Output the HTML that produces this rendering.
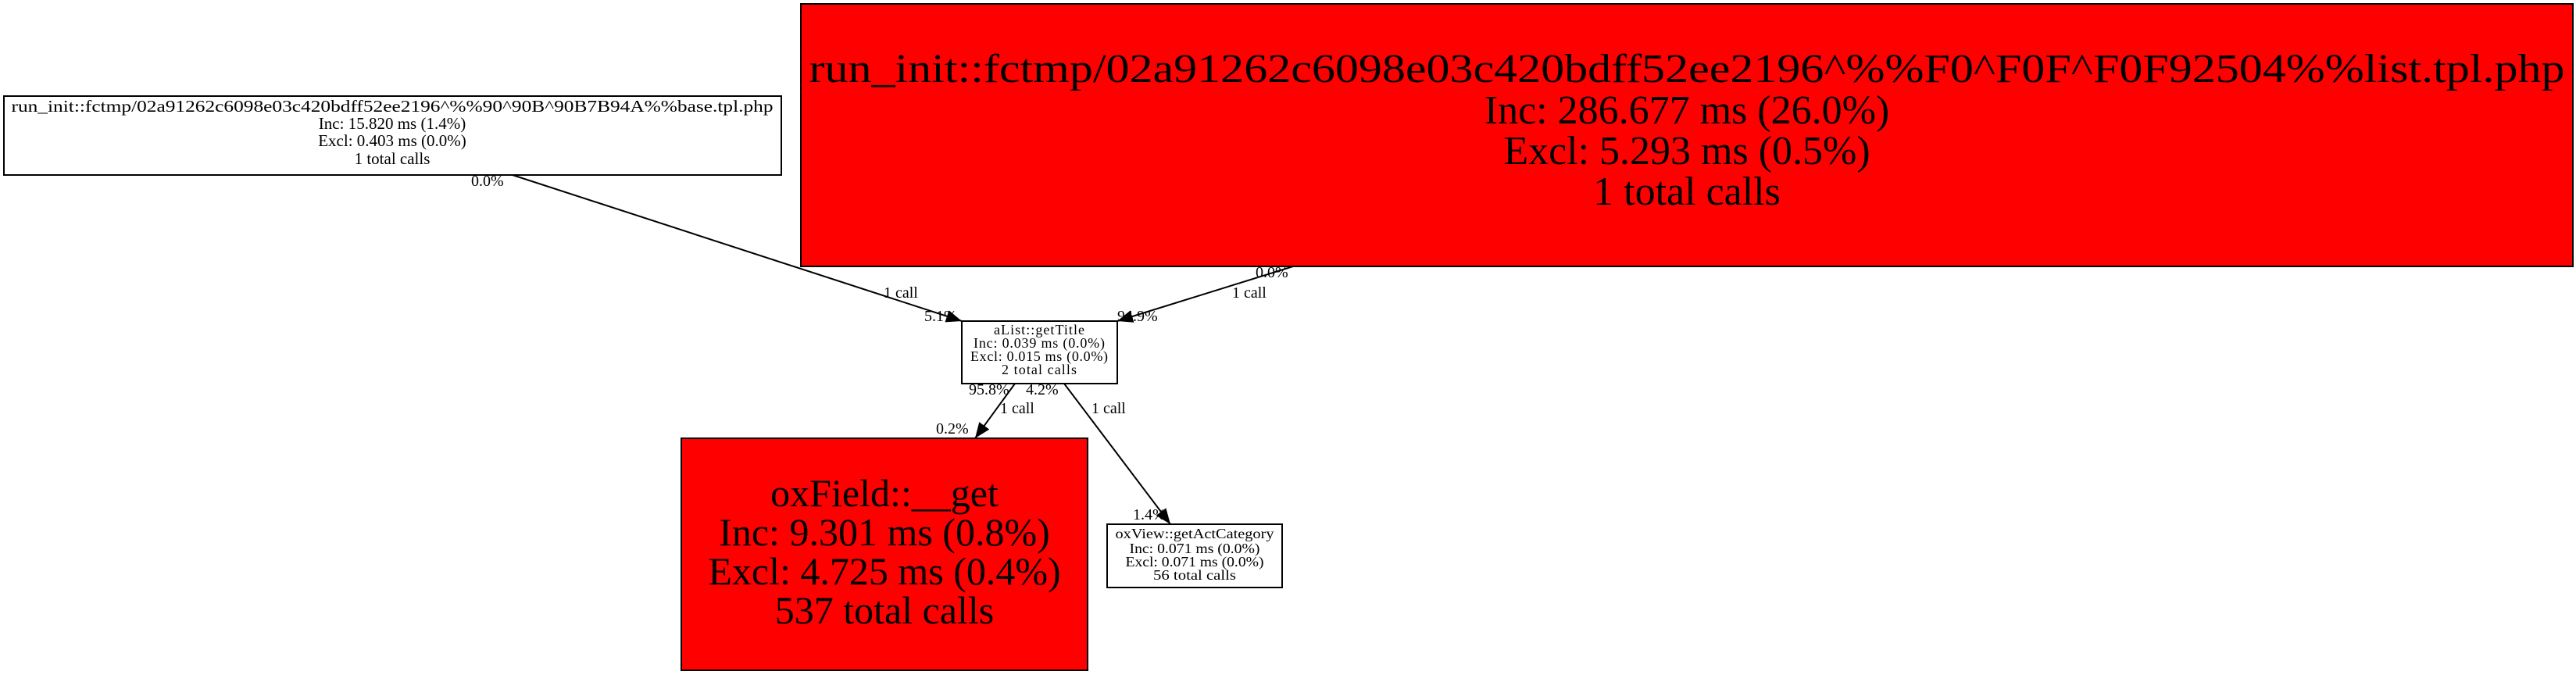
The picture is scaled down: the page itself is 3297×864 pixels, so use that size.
<!DOCTYPE html>
<html><head><meta charset="utf-8"><style>
html,body{margin:0;padding:0;background:#fff;}
svg{display:block;}
text{font-family:"Liberation Serif",serif;fill:#000;}
</style></head><body>
<svg width="3297" height="864" viewBox="0 0 3297 864" xmlns="http://www.w3.org/2000/svg">
<defs>
<marker id="b" markerWidth="20" markerHeight="16" refX="20" refY="8" orient="auto" markerUnits="userSpaceOnUse"><path d="M0,0 L20,8 L0,16 z" fill="#000"/></marker></defs>

<!-- left box -->
<rect x="5" y="123" width="995" height="101" fill="#fff" stroke="#000" stroke-width="2"/>
<g font-size="21" text-anchor="middle">
<text x="502" y="143" textLength="975" lengthAdjust="spacingAndGlyphs">run_init::fctmp/02a91262c6098e03c420bdff52ee2196^%%90^90B^90B7B94A%%base.tpl.php</text>
<text x="502" y="165">Inc: 15.820 ms (1.4%)</text>
<text x="502" y="187">Excl: 0.403 ms (0.0%)</text>
<text x="502" y="210">1 total calls</text>
</g>

<!-- big top box -->
<rect x="1025" y="5" width="2268" height="336" fill="#f00" stroke="#000" stroke-width="2"/>
<g font-size="52" text-anchor="middle">
<text x="2159" y="105" textLength="2247" lengthAdjust="spacingAndGlyphs">run_init::fctmp/02a91262c6098e03c420bdff52ee2196^%%F0^F0F^F0F92504%%list.tpl.php</text>
<text x="2159" y="158">Inc: 286.677 ms (26.0%)</text>
<text x="2159" y="210">Excl: 5.293 ms (0.5%)</text>
<text x="2159" y="262">1 total calls</text>
</g>

<!-- aList -->
<rect x="1231" y="411" width="199" height="80" fill="#fff" stroke="#000" stroke-width="2"/>
<g font-size="18" text-anchor="middle" lengthAdjust="spacingAndGlyphs">
<text x="1330" y="428" textLength="116">aList::getTitle</text>
<text x="1330" y="445" textLength="168">Inc: 0.039 ms (0.0%)</text>
<text x="1330" y="462" textLength="176">Excl: 0.015 ms (0.0%)</text>
<text x="1330" y="479" textLength="96">2 total calls</text>
</g>

<!-- oxField -->
<rect x="872" y="561" width="520" height="297" fill="#f00" stroke="#000" stroke-width="2"/>
<g font-size="50" text-anchor="middle">
<text x="1132" y="648">oxField::__get</text>
<text x="1132" y="698">Inc: 9.301 ms (0.8%)</text>
<text x="1132" y="748">Excl: 4.725 ms (0.4%)</text>
<text x="1132" y="798">537 total calls</text>
</g>

<!-- oxView -->
<rect x="1417" y="671" width="224" height="81" fill="#fff" stroke="#000" stroke-width="2"/>
<g font-size="18" text-anchor="middle">
<text x="1529" y="689" textLength="203" lengthAdjust="spacingAndGlyphs">oxView::getActCategory</text>
<text x="1529" y="708" textLength="167" lengthAdjust="spacingAndGlyphs">Inc: 0.071 ms (0.0%)</text>
<text x="1529" y="725" textLength="177" lengthAdjust="spacingAndGlyphs">Excl: 0.071 ms (0.0%)</text>
<text x="1529" y="742" textLength="106" lengthAdjust="spacingAndGlyphs">56 total calls</text>
</g>

<!-- edges -->
<g stroke="#000" stroke-width="2" fill="none">
<line x1="656" y1="224" x2="1231" y2="411" marker-end="url(#b)"/>
<line x1="1655" y1="341" x2="1430" y2="411" marker-end="url(#b)"/>
<line x1="1299" y1="491" x2="1248" y2="561" marker-end="url(#b)"/>
<line x1="1362" y1="491" x2="1498" y2="671" marker-end="url(#b)"/>
</g>

<g font-size="20">
<text x="603" y="238">0.0%</text>
<text x="1131" y="381">1 call</text>
<text x="1183" y="411">5.1%</text>
<text x="1607" y="355">0.0%</text>
<text x="1577" y="381">1 call</text>
<text x="1430" y="411">94.9%</text>
<text x="1240" y="505">95.8%</text>
<text x="1313" y="505">4.2%</text>
<text x="1280" y="529">1 call</text>
<text x="1397" y="529">1 call</text>
<text x="1198" y="555">0.2%</text>
<text x="1450" y="665">1.4%</text>
</g>
</svg>
</body></html>
